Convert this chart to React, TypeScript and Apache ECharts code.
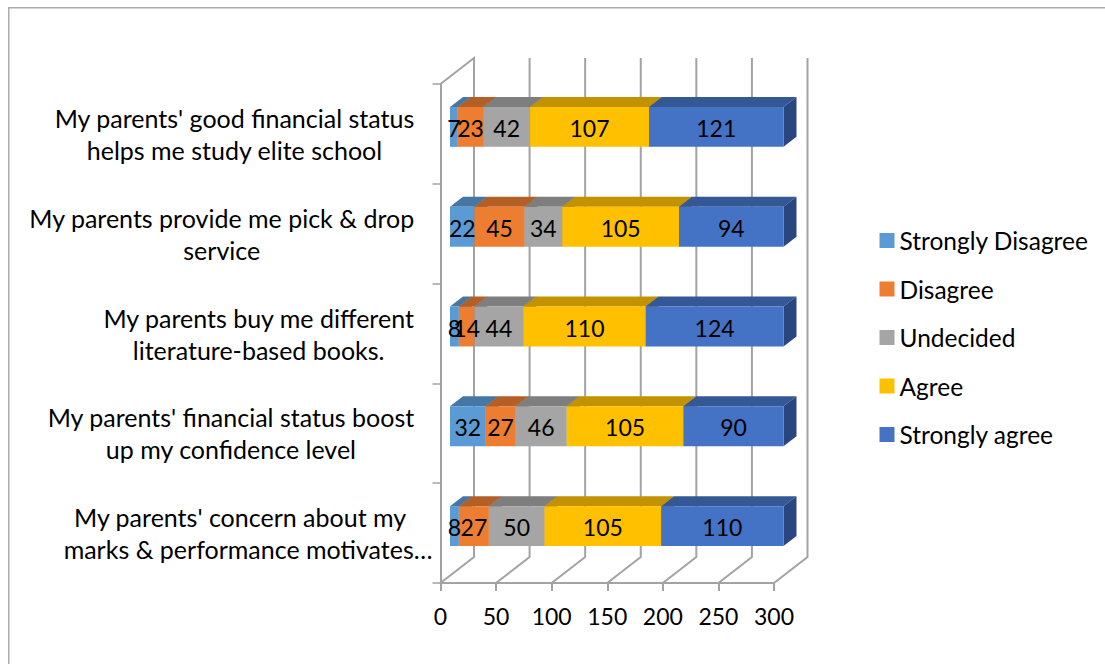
import React, { useEffect, useRef } from "react";
import * as echarts from "echarts";

const categories = [
  "My parents' good financial status\nhelps me study elite school",
  "My parents provide me pick & drop\nservice",
  "My parents buy me different\nliterature-based books.",
  "My parents' financial status boost\nup my confidence level",
  "My parents' concern about my\nmarks & performance motivates…",
];
const seriesNames = ["Strongly Disagree", "Disagree", "Undecided", "Agree", "Strongly agree"];
const stronglyDisagree = [7, 22, 8, 32, 8];
const disagree = [23, 45, 14, 27, 27];
const undecided = [42, 34, 44, 46, 50];
const agree = [107, 105, 110, 105, 105];
const stronglyAgree = [121, 94, 124, 90, 110];
const allValues = [stronglyDisagree, disagree, undecided, agree, stronglyAgree];
const frontColors = ["#5B9BD5", "#ED7D31", "#A5A5A5", "#FFC000", "#4472C4"];
const topColors = ["#4676A3", "#B45F26", "#7E7E7E", "#C29200", "#345796"];
const sideColors = ["#3A6186", "#8E4B1E", "#666666", "#9A7400", "#2A4680"];
const xTicks = [0, 50, 100, 150, 200, 250, 300];

const FONT = "Lato";
const LABEL_SIZE = 25;
const LEGEND_SIZE = 24.5;
const DIGIT_SIZE = 23;
const AXIS_COLOR = "#a3a3a3";
const WALL_DX = 33.5;
const WALL_DY = 26;
const BAR_DX = 13;
const BAR_DY = 10;
const BAR_OFFSET_X = 9.5;
const BAR_OFFSET_Y = -7;
const BAR_RATIO = 0.4;

function stackedData(values: number[], level: number) {
  return values.map((v, i) => {
    let start = 0;
    for (let k = 0; k < level; k++) start += allValues[k][i];
    return [start, start + v, i, v];
  });
}

const renderWall = (params: any, api: any) => {
  const v = api.value(0);
  const x = api.coord([v, 0])[0];
  const cs = params.coordSys;
  const bottom = cs.y + cs.height;
  const style = { stroke: AXIS_COLOR, lineWidth: 2, fill: "none" };
  const points: number[][] = [
    [x, bottom],
    [x + WALL_DX, bottom - WALL_DY],
    [x + WALL_DX, cs.y - WALL_DY],
  ];
  if (v === 0) points.push([x, cs.y]);
  return { type: "polyline", shape: { points }, style };
};

const makeRenderBar = (level: number) => (_params: any, api: any) => {
  const start = api.coord([api.value(0), api.value(2)]);
  const end = api.coord([api.value(1), api.value(2)]);
  const h = api.size([0, 1])[1] * BAR_RATIO;
  const x0 = start[0] + BAR_OFFSET_X;
  const x1 = end[0] + BAR_OFFSET_X;
  const y0 = start[1] + BAR_OFFSET_Y - h / 2;
  const y1 = y0 + h;
  return {
    type: "group",
    children: [
      {
        type: "polygon",
        shape: { points: [[x0, y0], [x0 + BAR_DX, y0 - BAR_DY], [x1 + BAR_DX, y0 - BAR_DY], [x1, y0]] },
        style: { fill: topColors[level] },
      },
      {
        type: "polygon",
        shape: { points: [[x1, y0], [x1 + BAR_DX, y0 - BAR_DY], [x1 + BAR_DX, y1 - BAR_DY], [x1, y1]] },
        style: { fill: sideColors[level] },
      },
      { type: "rect", shape: { x: x0, y: y0, width: x1 - x0, height: h }, style: { fill: frontColors[level] } },
      {
        type: "text",
        z2: 100,
        style: {
          text: String(api.value(3)),
          x: (x0 + x1) / 2,
          y: (y0 + y1) / 2 + 1,
          align: "center",
          verticalAlign: "middle",
          fontSize: DIGIT_SIZE,
          fontFamily: FONT,
          fill: "#000",
        },
      },
    ],
  };
};

export default function App() {
  const ref = useRef<HTMLDivElement>(null);
  useEffect(() => {
    document.body.style.margin = "0";
    const chart = echarts.init(ref.current!, null, { renderer: "svg" });
    chart.setOption({
      animation: false,
      backgroundColor: "#fff",
      graphic: [
        {
          type: "polyline",
          silent: true,
          shape: { points: [[8.75, 664], [8.75, 7.75], [1105, 7.75]] },
          style: { stroke: "#ababab", lineWidth: 1.5, fill: "none" },
        },
      ],
      grid: { left: 440.5, top: 84, width: 333.5, height: 499, containLabel: false },
      xAxis: {
        type: "value",
        min: 0,
        max: 300,
        interval: 50,
        splitLine: { show: false },
        axisLine: { show: true, onZero: false, lineStyle: { color: AXIS_COLOR, width: 2 } },
        axisTick: { show: true, length: 8, lineStyle: { color: AXIS_COLOR, width: 2 } },
        axisLabel: { margin: 21, fontFamily: FONT, fontSize: DIGIT_SIZE, color: "#000" },
      },
      yAxis: {
        type: "category",
        inverse: true,
        data: categories,
        axisLine: { show: true, lineStyle: { color: AXIS_COLOR, width: 2 } },
        axisTick: { show: true, length: 8, lineStyle: { color: AXIS_COLOR, width: 1.5 } },
        axisLabel: {
          margin: 8,
          align: "right",
          interval: 0,
          formatter: (value: string, index: number) => {
            const [a, b] = value.split("\n");
            if (index === categories.length - 1) return `{e1|${a}}\n{e2|${b}}`;
            return `{c|${a}}\n{c|${b}}`;
          },
          rich: {
            c: { align: "center", padding: [0, 18, 0, 0], lineHeight: 32, fontFamily: FONT, fontSize: LABEL_SIZE, color: "#000" },
            e1: { align: "center", padding: [0, 16, 0, 0], lineHeight: 32, fontFamily: FONT, fontSize: LABEL_SIZE, color: "#000" },
            e2: { align: "center", lineHeight: 32, fontFamily: FONT, fontSize: LABEL_SIZE, color: "#000" },
          },
        },
      },
      legend: {
        show: true,
        orient: "vertical",
        left: 874.5,
        top: 223,
        icon: "rect",
        itemWidth: 15,
        itemHeight: 15,
        itemGap: 23.5,
        data: seriesNames,
        textStyle: { fontFamily: FONT, fontSize: LEGEND_SIZE, color: "#000" },
      },
      series: [
        {
          type: "custom",
          name: "walls",
          silent: true,
          z: 1,
          renderItem: renderWall,
          data: xTicks.map((t) => [t]),
          encode: { x: 0 },
        },
        ...seriesNames.map((name, level) => ({
          type: "custom",
          name,
          z: 2,
          itemStyle: { color: frontColors[level] },
          renderItem: makeRenderBar(level),
          data: stackedData(allValues[level], level),
          encode: { x: [0, 1], y: 2 },
        })),
      ],
    });
    return () => chart.dispose();
  }, []);
  return <div ref={ref} style={{ width: 1105, height: 664, overflow: "hidden" }} />;
}
